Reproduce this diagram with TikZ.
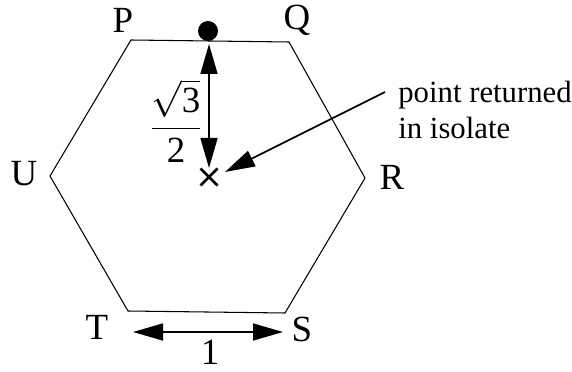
\documentclass[tikz,border=0pt]{standalone}
\usepackage{fontspec}
\setmainfont{Liberation Serif}
\usepackage{amsmath}
\usepackage{tikz}
\usetikzlibrary{arrows.meta,positioning,calc}

\tikzset{
    lbl/.style={inner sep=0pt,font=\fontsize{21}{25}\selectfont},
    notetext/.style={inner sep=0pt,font=\fontsize{17.5}{21}\selectfont},
    dimarrow/.style={{Triangle[length=0.6cm,width=0.34cm]}-{Triangle[length=0.6cm,width=0.34cm]},line width=0.9pt},
    leader/.style={-{Triangle[length=0.6cm,width=0.34cm]},line width=0.9pt}
}

\begin{document}
\begin{tikzpicture}[>=Latex,scale=1]
    \useasboundingbox (0,0) rectangle (11.44,7.42);

    % hexagon corners
    \coordinate (P) at (2.62,6.62);
    \coordinate (Q) at (5.78,6.58);
    \coordinate (R) at (7.30,3.86);
    \coordinate (S) at (5.70,1.16);
    \coordinate (T) at (2.56,1.20);
    \coordinate (U) at (1.00,3.90);
    \draw[line width=0.6pt] (P) -- (Q) -- (R) -- (S) -- (T) -- (U) -- cycle;

    \node[lbl] (labP) at (2.46,7.02) {P};
    \node[lbl] (labQ) at (5.94,7.02) {Q};
    \node[lbl] (labR) at (7.84,3.88) {R};
    \node[lbl] (labS) at (6.04,0.84) {S};
    \node[lbl] (labT) at (1.94,0.88) {T};
    \node[lbl] (labU) at (0.48,3.94) {U};

    % point on the edge and centre
    \fill (4.16,6.80) circle (0.2);
    \coordinate (edge) at (4.18,6.54);
    \coordinate (centre) at (4.18,3.88);
    \coordinate (above) at (4.18,4.06);
    \draw[line width=1.5pt] ($(centre)+(-0.17,-0.17)$) -- ($(centre)+(0.17,0.17)$);
    \draw[line width=1.5pt] ($(centre)+(-0.17,0.17)$) -- ($(centre)+(0.17,-0.17)$);

    \draw[dimarrow] (edge) -- (above);
    \node[lbl] (half) at (3.52,5.00) {$\dfrac{\sqrt{\mbox{3}}}{\mbox{2}}$};

    % note
    \node[notetext,anchor=west,align=left] (note) at (7.96,5.22) {point returned\\in isolate};
    \coordinate (noteend) at (7.70,5.58);
    \coordinate (tip) at (4.50,3.98);
    \draw[leader] (noteend) -- (tip);

    % side length
    \coordinate (left) at (2.66,0.78);
    \coordinate (right) at (5.66,0.78);
    \draw[dimarrow] (left) -- (right);
    \node[lbl] (one) at (4.20,0.38) {1};
\end{tikzpicture}
\end{document}
